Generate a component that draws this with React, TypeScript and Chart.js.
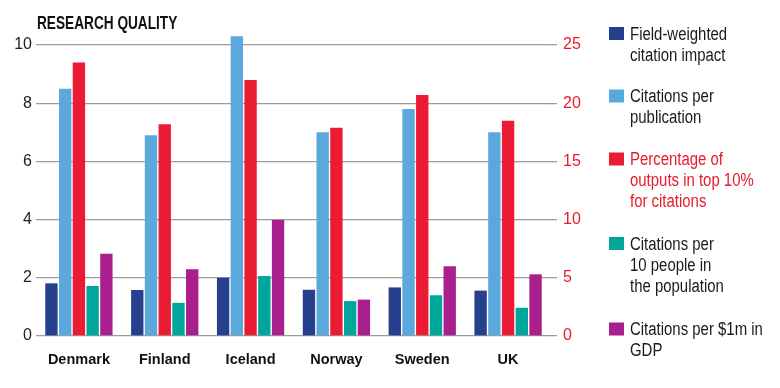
import React, { useEffect, useRef } from "react";
import { Chart, registerables } from "chart.js";

Chart.register(...registerables);

const categories = ["Denmark", "Finland", "Iceland", "Norway", "Sweden", "UK"];
const fieldWeighted = [1.81, 1.58, 2.0, 1.59, 1.67, 1.56];
const citationsPerPublication = [8.5, 6.9, 10.3, 7.0, 7.8, 7.0];
const pctTop10 = [23.5, 18.2, 22.0, 17.9, 20.7, 18.5];
const citationsPer10People = [1.72, 1.14, 2.06, 1.2, 1.4, 0.97];
const citationsPerGDP = [2.83, 2.29, 3.99, 1.25, 2.4, 2.12];
const leftTicks = [0, 2, 4, 6, 8, 10];
const rightTicks = [0, 5, 10, 15, 20, 25];

const title = "RESEARCH QUALITY";
const legendItems = [
  { lines: ["Field-weighted", "citation impact"], color: "#26408e", text: "#1a1a1a" },
  { lines: ["Citations per", "publication"], color: "#5ba8dc", text: "#1a1a1a" },
  { lines: ["Percentage of", "outputs in top 10%", "for citations"], color: "#ec1b34", text: "#e8192c" },
  { lines: ["Citations per", "10 people in", "the population"], color: "#00a69c", text: "#1a1a1a" },
  { lines: ["Citations per $1m in", "GDP"], color: "#a81f8d", text: "#1a1a1a" },
];

function condensedText(ctx: any, text: string, x: number, y: number, sx: number) {
  ctx.save();
  ctx.translate(x, y);
  ctx.scale(sx, 1);
  ctx.fillText(text, 0, 0);
  ctx.restore();
}

const overlayPlugin = {
  id: "overlay",
  afterDraw(chart: any) {
    const ctx = chart.ctx;
    ctx.save();
    ctx.fillStyle = "#111";
    ctx.font = "bold 17.5px 'Liberation Sans', sans-serif";
    ctx.textBaseline = "alphabetic";
    ctx.textAlign = "left";
    condensedText(ctx, title, 37, 28.5, 0.78);

    ctx.font = "18px 'Liberation Sans', sans-serif";
    const baselines = [39.5, 102, 165, 249.5, 335];
    const lh = 21;
    legendItems.forEach((item, i) => {
      const b = baselines[i];
      ctx.fillStyle = item.color;
      ctx.fillRect(609, b - 12.5, 15, 13);
      ctx.fillStyle = item.text;
      item.lines.forEach((ln, j) => {
        condensedText(ctx, ln, 630, b + j * lh, 0.83);
      });
    });
    ctx.restore();
  },
};

export default function App() {
  const ref = useRef<HTMLCanvasElement | null>(null);
  useEffect(() => {
    if (!ref.current) return;
    const gridColor = "#9c9c9c";
    const chart = new Chart(ref.current, {
      type: "bar",
      data: {
        labels: categories,
        datasets: [
          { label: "Field-weighted citation impact", data: fieldWeighted, backgroundColor: "#26408e", yAxisID: "y" },
          { label: "Citations per publication", data: citationsPerPublication, backgroundColor: "#5ba8dc", yAxisID: "y" },
          { label: "Percentage of outputs in top 10% for citations", data: pctTop10, backgroundColor: "#ec1b34", yAxisID: "y2" },
          { label: "Citations per 10 people in the population", data: citationsPer10People, backgroundColor: "#00a69c", yAxisID: "y" },
          { label: "Citations per $1m in GDP", data: citationsPerGDP, backgroundColor: "#a81f8d", yAxisID: "y" },
        ],
      },
      plugins: [overlayPlugin],
      options: {
        animation: false,
        responsive: false,
        maintainAspectRatio: false,
        layout: { padding: { top: 28, right: 189, left: 0, bottom: 0 } },
        datasets: { bar: { categoryPercentage: 0.8, barPercentage: 0.9, borderWidth: 0 } },
        plugins: { legend: { display: false }, tooltip: { enabled: false }, title: { display: false } },
        scales: {
          x: {
            grid: { display: false, drawTicks: false },
            border: { display: false },
            ticks: {
              color: "#111",
              padding: 15,
              font: { family: "'Liberation Sans', sans-serif", size: 14.5, weight: "bold" },
            },
            afterFit: (s: any) => { s.height = 52; },
          },
          y: {
            position: "left",
            min: 0,
            max: 10.584,
            afterBuildTicks: (s: any) => { s.ticks = leftTicks.map((v) => ({ value: v })); },
            grid: { color: gridColor, lineWidth: 1.3, drawTicks: false },
            border: { display: false },
            ticks: {
              color: "#222",
              padding: 4,
              font: { family: "'Liberation Sans', sans-serif", size: 16 },
            },
            afterFit: (s: any) => { s.width = 36; },
          },
          y2: {
            position: "right",
            min: 0,
            max: 26.46,
            afterBuildTicks: (s: any) => { s.ticks = rightTicks.map((v) => ({ value: v })); },
            grid: { drawOnChartArea: false, color: gridColor, lineWidth: 1.3, tickLength: 6 },
            border: { display: false },
            ticks: {
              color: "#e8192c",
              padding: 6,
              font: { family: "'Liberation Sans', sans-serif", size: 16 },
            },
            afterFit: (s: any) => { s.width = 40; },
          },
        },
      },
    });
    return () => chart.destroy();
  }, []);
  return (
    <div style={{ position: "absolute", left: 0, top: 0, width: 780, height: 388, background: "#fff" }}>
      <canvas ref={ref} width={780} height={388} style={{ display: "block", width: 780, height: 388 }} />
    </div>
  );
}
